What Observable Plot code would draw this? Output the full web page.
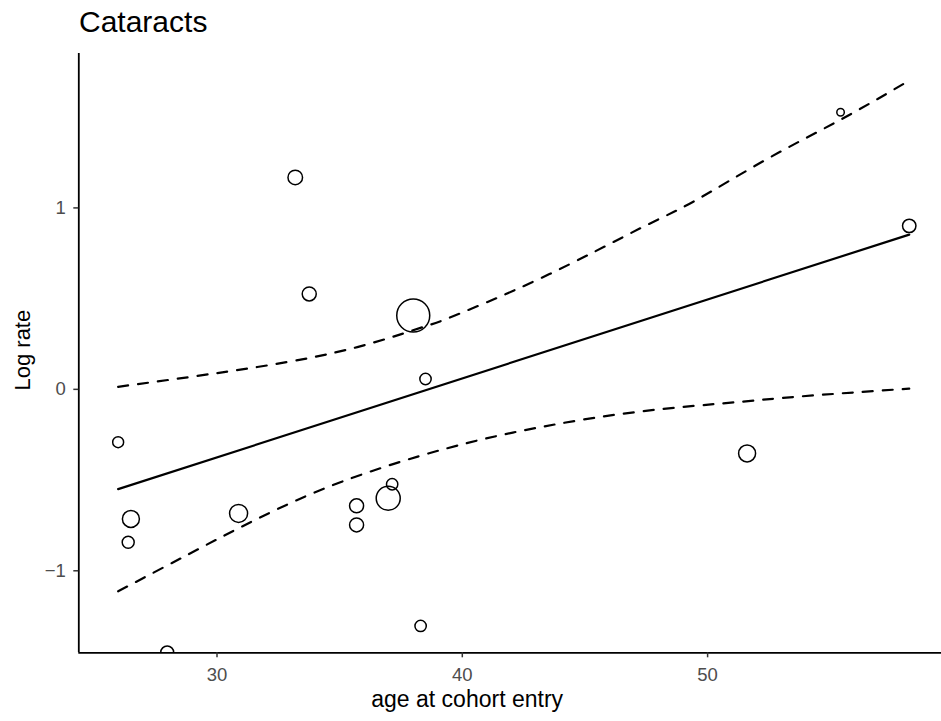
<!DOCTYPE html>
<html>
<head>
<meta charset="utf-8">
<script src="https://cdn.jsdelivr.net/npm/d3@7"></script>
<script src="https://cdn.jsdelivr.net/npm/@observablehq/plot@0.6"></script>
<style>
  html, body { margin: 0; padding: 0; background: white; }
  #title {
    box-sizing: border-box;
    height: 44px;
    padding-top: 6.5px;
    padding-left: 79px;
    font-family: "Liberation Sans", Arial, Helvetica, sans-serif;
    font-size: 30px;
    line-height: 1;
    color: black;
    white-space: nowrap;
  }
  #chart svg { display: block; }
</style>
</head>
<body>
<div id="title">Cataracts</div>
<div id="chart"></div>
<script>
// ---- data ----
const age     = [25.97, 26.49, 26.38, 27.97, 30.88, 33.19, 33.76, 35.69, 35.69, 36.98, 37.14, 38.00, 38.30, 38.50, 51.61, 55.42, 58.22];
const logRate = [-0.291, -0.714, -0.843, -1.450, -0.684, 1.168, 0.526, -0.642, -0.747, -0.600, -0.523, 0.407, -1.304, 0.057, -0.353, 1.527, 0.901];
const weight  = [30, 72, 36, 42, 81, 53, 49, 49, 49, 144, 32, 272, 32, 32, 72, 14, 45];

const fitAge     = [25.97, 58.22];
const fitLogRate = [-0.550, 0.853];

const upperAge     = [25.97, 31.64, 35.72, 38.43, 39.44, 43.19, 47.26, 49.44, 52.43, 55.42, 58.22];
const upperLogRate = [0.014, 0.123, 0.233, 0.345, 0.393, 0.612, 0.888, 1.036, 1.270, 1.486, 1.702];

const lowerAge     = [25.97, 28.92, 31.64, 35.03, 39.32, 43.19, 47.26, 51.07, 53.79, 58.22];
const lowerLogRate = [-1.113, -0.903, -0.714, -0.512, -0.327, -0.208, -0.122, -0.072, -0.039, 0.004];

const xTicks = [30, 40, 50];
const yTicks = [-1, 0, 1];
const xDomain = [24.366, 59.535];
const yDomain = [-1.452, 1.851];

const xLabel = "age at cohort entry";
const yLabel = "Log rate";

// ---- build tables ----
const points = age.map((a, i) => ({age: a, logRate: logRate[i], weight: weight[i]}));
const fit = fitAge.map((a, i) => ({age: a, logRate: fitLogRate[i]}));
const upper = upperAge.map((a, i) => ({age: a, logRate: upperLogRate[i]}));
const lower = lowerAge.map((a, i) => ({age: a, logRate: lowerLogRate[i]}));

const font = "'Liberation Sans', Arial, Helvetica, sans-serif";
const fmt = d3.format("d");

const chart = Plot.plot({
  width: 941,
  height: 677,
  marginTop: 9,
  marginRight: 0,
  marginBottom: 68.7,
  marginLeft: 78.3,
  style: {fontFamily: font, background: "white", overflow: "visible"},
  x: {domain: xDomain},
  y: {domain: yDomain},
  r: {type: "sqrt", domain: [0, 272], range: [0, 16.5]},
  marks: [
    Plot.line(upper, {x: "age", y: "logRate", stroke: "black", strokeWidth: 2.2, strokeDasharray: "10,10", curve: "natural"}),
    Plot.line(lower, {x: "age", y: "logRate", stroke: "black", strokeWidth: 2.2, strokeDasharray: "10,10", curve: "natural"}),
    Plot.line(fit, {x: "age", y: "logRate", stroke: "black", strokeWidth: 2.2}),
    Plot.dot(points, {x: "age", y: "logRate", r: "weight", stroke: "black", strokeWidth: 1.5, fill: "none", clip: true}),
    Plot.ruleX([xDomain[0]], {stroke: "black", strokeWidth: 1.8}),
    Plot.ruleY([yDomain[0]], {stroke: "black", strokeWidth: 1.8}),
    Plot.axisX({ticks: xTicks, tickFormat: fmt, tickSize: 5, tickPadding: 9.7, fontSize: 18.5, fill: "#4d4d4d", stroke: "#333333", strokeWidth: 1.5, label: null}),
    Plot.axisY({ticks: yTicks, tickFormat: fmt, tickSize: 5, tickPadding: 8, fontSize: 18.5, fill: "#4d4d4d", stroke: "#333333", strokeWidth: 1.5, label: null}),
    Plot.text([xLabel], {text: d => d, frameAnchor: "bottom", textAnchor: "middle", dx: -43, dy: 54.2, lineAnchor: "bottom", fontSize: 23, fill: "black"}),
    Plot.text([yLabel], {text: d => d, frameAnchor: "left", textAnchor: "middle", rotate: -90, dx: -49, dy: -3, lineAnchor: "bottom", fontSize: 22, fill: "black"})
  ]
});
document.getElementById("chart").appendChild(chart);
</script>
</body>
</html>
